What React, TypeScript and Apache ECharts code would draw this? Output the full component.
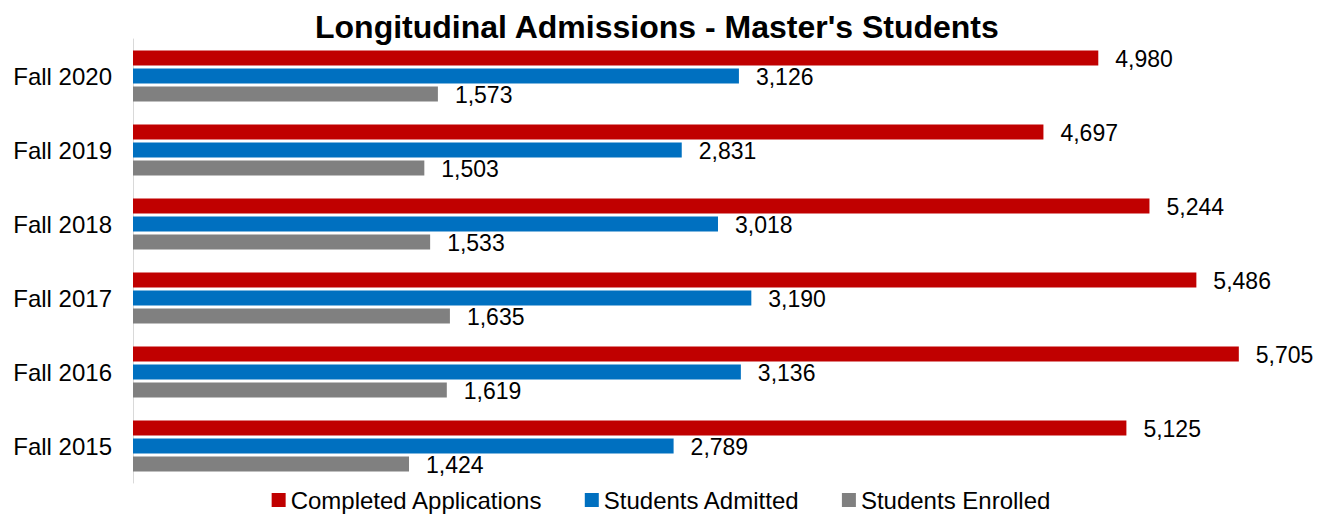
import React, { useEffect, useRef } from "react";
import * as echarts from "echarts";

const categories = ["Fall 2015", "Fall 2016", "Fall 2017", "Fall 2018", "Fall 2019", "Fall 2020"];
const completedApplications = [5125, 5705, 5486, 5244, 4697, 4980];
const studentsAdmitted = [2789, 3136, 3190, 3018, 2831, 3126];
const studentsEnrolled = [1424, 1619, 1635, 1533, 1503, 1573];
const seriesNames = ["Completed Applications", "Students Admitted", "Students Enrolled"];
const seriesColors = ["#C00000", "#0070C0", "#808080"];

const FONT = "'Liberation Sans', Arial, sans-serif";

export default function App() {
  const ref = useRef<HTMLDivElement>(null);
  useEffect(() => {
    if (!ref.current) return;
    const chart = echarts.init(ref.current, null, { renderer: "svg" });
    const data = [completedApplications, studentsAdmitted, studentsEnrolled];
    chart.setOption({
      animation: false,
      title: {
        text: "Longitudinal Admissions - Master's Students",
        left: 315,
        top: 11,
        padding: 0,
        textStyle: { fontFamily: FONT, fontSize: 32, fontWeight: "bold", color: "#000" },
      },
      legend: {
        bottom: -3,
        left: "center",
        icon: "rect",
        itemWidth: 14,
        itemHeight: 14,
        itemGap: 42,
        textStyle: { fontFamily: FONT, fontSize: 24, color: "#000" },
        data: seriesNames,
      },
      grid: { left: 133, right: 26, top: 39, bottom: 31, containLabel: false },
      xAxis: {
        type: "value",
        min: 0,
        max: 6000,
        show: false,
      },
      yAxis: {
        type: "category",
        data: categories,
        axisLine: { show: true, lineStyle: { color: "#D9D9D9", width: 1 } },
        axisTick: { show: false },
        axisLabel: { fontFamily: FONT, fontSize: 24, color: "#000", margin: 21 },
      },
      series: seriesNames.map((name, i) => ({
        name,
        type: "bar",
        data: data[i],
        barWidth: 15,
        barGap: "20%",
        itemStyle: { color: seriesColors[i] },
        label: {
          show: true,
          position: "right",
          distance: 17,
          offset: [0, 1],
          fontFamily: FONT,
          fontSize: 23,
          color: "#000",
          formatter: (p: any) => Number(p.value).toLocaleString("en-US"),
        },
      })),
    });
    return () => chart.dispose();
  }, []);
  return <div ref={ref} style={{ position: "absolute", left: 0, top: 0, width: 1322, height: 514 }} />;
}
